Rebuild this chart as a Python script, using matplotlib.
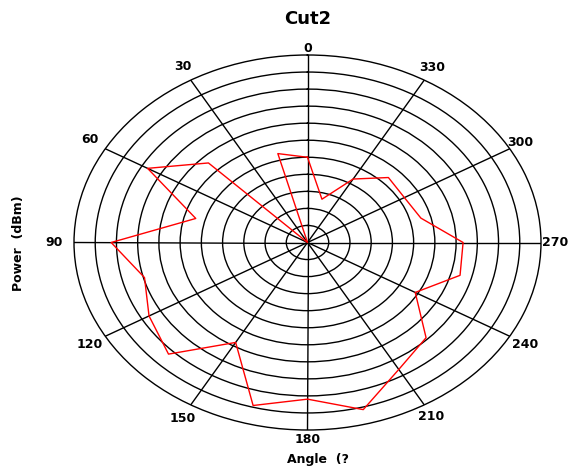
import numpy as np
import matplotlib.pyplot as plt

# antenna cut, angle in degrees (counter-clockwise from top), power in ring units
angles_deg = [0, 15, 30, 45, 60, 75, 90, 105, 120, 135, 150, 165,
              180, 195, 210, 225, 240, 255, 270, 285, 300, 315, 330, 345]
power = [5.0, 5.4, 0.0, 6.6, 8.7, 5.45, 9.25, 7.95, 8.62, 9.26, 6.77, 9.9,
         9.19, 10.15, 8.6, 7.9, 5.86, 7.44, 7.33, 5.53, 5.27, 5.39, 4.3, 2.63]

ring_levels = list(range(1, 11))
angle_ticks = list(range(0, 360, 30))
angle_labels = [str(a) for a in angle_ticks]

# distance (px) of each angle label centre from the outer ellipse, as in the original
label_dist = [7.5, 17, 19.7, 21.5, 18.9, 17.5, 11, 15.3, 18.9, 15.5, 13.6, 16.4]

fig = plt.figure(figsize=(5.74, 4.75), dpi=100)
ax = fig.add_axes([74 / 574, 45 / 475, 467 / 574, 375 / 475], projection='polar')
ax.set_aspect('auto')  # stretch the circle into an ellipse like the original
ax.set_theta_zero_location('N')
ax.set_theta_direction(1)

# close the curve
theta = np.deg2rad(angles_deg + [angles_deg[0]])
r = power + [power[0]]
ax.plot(theta, r, color='red', lw=1, zorder=5)

ax.set_rlim(0, 11)
ax.set_rticks(ring_levels)
ax.set_yticklabels([])
ax.set_thetagrids(angle_ticks, angle_labels, fontsize=9, fontweight='bold')
ax.grid(True, color='black', lw=1)
ax.spines['polar'].set_linewidth(1)
ax.spines['polar'].set_color('black')

for tick, d in zip(ax.xaxis.get_major_ticks(), label_dist):
    tick.set_pad((d - 16) / 1.39)

fig.text(307.5 / 574, 1 - 19 / 475, 'Cut2', ha='center', va='center',
         fontsize=13, fontweight='bold')
fig.text(318 / 574, 1 - 460 / 475, 'Angle  (?', ha='center', va='center',
         fontsize=9, fontweight='bold')
fig.text(19 / 574, 1 - 243 / 475, 'Power  (dBm)', ha='center', va='center',
         rotation=90, fontsize=9, fontweight='bold')

fig.savefig('out.png', dpi=100)
